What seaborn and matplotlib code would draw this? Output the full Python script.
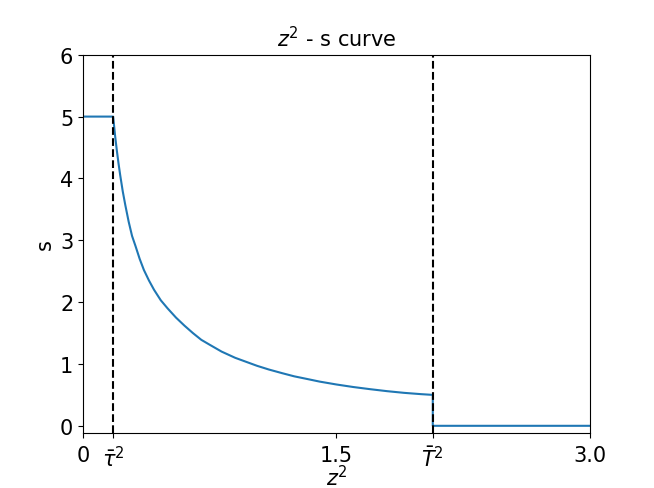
import numpy as np
import seaborn as sns
import matplotlib.pyplot as plt
import pandas as pd

# values
z2 = [0.0, 0.178, 0.19, 0.20, 0.21, 0.22, 0.235, 0.25, 0.27, 0.29, 0.31, 0.335,
      0.36, 0.39, 0.42, 0.46, 0.50, 0.55, 0.60, 0.65, 0.70, 0.75, 0.82, 0.90,
      0.95, 1.03, 1.10, 1.18, 1.25, 1.33, 1.40, 1.50, 1.60, 1.70, 1.80, 1.90,
      2.00, 2.07, 2.07, 3.0]
s = [5.0, 5.0, 4.68, 4.45, 4.24, 4.05, 3.79, 3.57, 3.30, 3.07, 2.91, 2.70,
     2.52, 2.35, 2.20, 2.03, 1.90, 1.75, 1.62, 1.50, 1.39, 1.31, 1.20, 1.10,
     1.05, 0.97, 0.91, 0.85, 0.80, 0.755, 0.715, 0.668, 0.627, 0.592, 0.56, 0.533,
     0.512, 0.5, 0.0, 0.0]
tau2 = 0.178
T2 = 2.07
xtick_vals = [0, tau2, 1.5, T2, 3.0]
xtick_labels = ['0', r'$\bar{\tau}^2$', '1.5', r'$\bar{T}^2$', '3.0']

df = pd.DataFrame({'z2': z2, 's': s})

plt.rcParams['font.family'] = ['DejaVu Sans']
fig, ax = plt.subplots(figsize=(6.54, 4.89), dpi=100)
fig.subplots_adjust(left=0.127, right=0.902, top=0.886, bottom=0.112)
sns.lineplot(data=df, x='z2', y='s', ax=ax, estimator=None, sort=False,
             color='tab:blue', linewidth=1.5)
ax.axvline(tau2, color='black', linestyle='--', linewidth=1.5)
ax.axvline(T2, color='black', linestyle='--', linewidth=1.5)

ax.set_xlim(0, 3.0)
ax.set_ylim(-0.12, 6)
ax.set_xticks(xtick_vals)
ax.set_xticklabels(xtick_labels)
ax.set_yticks(range(0, 7))
ax.tick_params(labelsize=15)
ax.tick_params(axis='x', pad=5)
ax.set_xlabel(r'$z^2$', fontsize=15)
ax.xaxis.set_label_coords(0.5, -0.08)
ax.set_ylabel('s', fontsize=15)
ax.set_title(r'$z^2$ - s curve', fontsize=15)

plt.savefig('out.png')
